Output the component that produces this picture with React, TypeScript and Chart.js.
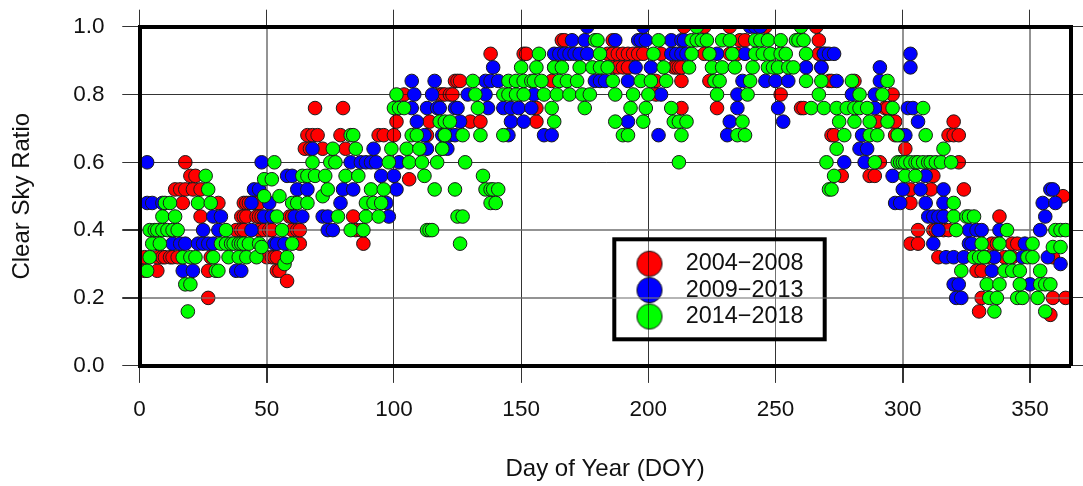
import { useEffect, useRef } from "react";
import { Chart, registerables } from "chart.js";

Chart.register(...registerables);

// Each row: ratio, then the days of year showing that ratio.
const period1Rows: number[][] = [
  [0.15, 358],
  [0.16, 330],
  [0.2, 27, 331, 359, 364],
  [0.25, 58],
  [0.28, 2, 7, 27, 54, 55, 329, 331],
  [0.32, 2, 7, 9, 10, 12, 13, 15, 28, 50, 52, 53, 54, 314, 333, 340, 343, 359],
  [0.36, 63, 88, 303, 306, 335, 337, 343, 345],
  [0.4, 38, 40, 41, 47, 49, 51, 52, 60, 62, 63, 85, 87, 306, 312, 313, 316, 318],
  [0.44, 24, 40, 41, 42, 46, 47, 48, 59, 60, 84, 338],
  [0.48, 17, 31, 41, 42, 43, 46, 47, 303],
  [0.5, 363],
  [0.52, 14, 16, 18, 21, 24, 303, 311, 324],
  [0.55, 106],
  [0.56, 20, 22, 276, 287, 289, 312],
  [0.6, 18, 291, 322],
  [0.64, 65, 67, 72, 81, 301],
  [0.68, 66, 68, 70, 79, 94, 96, 100, 113, 272, 273, 297, 318, 320, 322],
  [0.72, 101, 114, 130, 134, 156, 290, 296, 297, 320],
  [0.76, 69, 80, 156, 213, 227, 260, 261, 293, 294],
  [0.8, 104, 118, 119, 120, 122, 123, 203, 252, 296],
  [0.84, 124, 125, 126, 162, 203, 213, 224, 271, 272, 281],
  [0.88, 186, 188, 190, 192, 210, 211, 212, 213, 268],
  [0.92, 138, 151, 152, 184, 186, 188, 190, 192, 194, 196, 198, 205, 210, 222, 232, 235, 267, 269, 270],
  [0.96, 166, 167, 186, 236, 238, 267],
  [1.0, 214, 222, 232, 246, 266],
];

const period2Rows: number[][] = [
  [0.2, 321, 323],
  [0.24, 320, 322, 350],
  [0.28, 17, 21, 38, 40, 335],
  [0.3, 362],
  [0.32, 317, 320, 324, 336, 347, 357],
  [0.36, 13, 16, 18, 23, 25, 27, 29, 53, 54, 57, 312, 326, 327, 348],
  [0.4, 25, 31, 44, 74, 76, 314, 326, 329, 331, 338, 354],
  [0.44, 29, 32, 49, 52, 61, 64, 72, 74, 98, 310, 312, 314, 316, 356],
  [0.48, 3, 5, 9, 44, 51, 79, 97, 297, 299, 309, 316, 355, 360],
  [0.52, 45, 47, 62, 66, 80, 84, 101, 300, 307, 316, 358, 359],
  [0.56, 58, 60, 95, 100, 296, 309],
  [0.6, 3, 48, 83, 87, 89, 91, 93, 102, 277, 285],
  [0.64, 68, 92, 113, 121, 119, 283, 286],
  [0.68, 112, 119, 120, 122, 124, 145, 159, 162, 204, 231, 284, 299, 301],
  [0.72, 109, 126, 146, 151, 192, 232, 253, 306],
  [0.76, 107, 113, 117, 118, 124, 125, 137, 143, 146, 149, 154, 235, 251, 289, 302, 304],
  [0.8, 108, 115, 129, 136, 155, 205, 235, 280, 289],
  [0.84, 107, 116, 136, 138, 141, 179, 181, 183, 192, 237, 246, 250, 255, 274, 291],
  [0.88, 139, 163, 195, 201, 262, 268, 291, 303],
  [0.92, 163, 165, 167, 169, 171, 173, 176, 209, 211, 213, 215, 227, 238, 269, 271, 273, 303],
  [0.96, 170, 175, 187, 196, 197, 199, 209, 213, 214],
  [1.0, 176, 198, 240, 242, 244],
];

const period3Rows: number[][] = [
  [0.16, 19, 336, 356],
  [0.2, 334, 337, 345, 347, 353],
  [0.24, 18, 20, 333, 338, 346, 354, 356, 358],
  [0.28, 3, 30, 31, 323, 340, 343, 346, 354],
  [0.3, 57],
  [0.32, 4, 17, 20, 22, 29, 35, 39, 42, 46, 58, 328, 330, 332, 342, 349, 351],
  [0.35, 48, 359, 362],
  [0.36, 5, 8, 32, 34, 36, 37, 39, 40, 41, 43, 47, 60, 126, 331, 338, 351],
  [0.4, 4, 6, 7, 9, 11, 13, 15, 34, 56, 83, 88, 113, 114, 115, 321, 341, 360, 362, 364],
  [0.44, 9, 14, 54, 78, 89, 94, 125, 127, 320, 325, 326, 328],
  [0.48, 10, 12, 23, 28, 60, 62, 66, 89, 92, 95, 138, 140, 320],
  [0.5, 49, 55, 72],
  [0.52, 27, 74, 91, 96, 116, 124, 136, 138, 139, 141, 271, 272],
  [0.55, 49, 52],
  [0.56, 26, 64, 66, 69, 73, 81, 86, 112, 135, 273, 301, 305],
  [0.6, 53, 68, 75, 77, 98, 106, 111, 117, 128, 212, 270, 289, 298, 299, 300, 301, 303, 305, 306, 308, 310, 311, 313, 315, 319],
  [0.64, 76, 85, 99, 105, 110, 119, 274, 316],
  [0.68, 83, 84, 107, 109, 120, 127, 134, 143, 190, 192, 213, 235, 238, 277, 287, 290, 298, 309],
  [0.72, 118, 120, 122, 163, 187, 198, 210, 212, 215, 237, 275, 281, 287, 294],
  [0.76, 100, 102, 104, 133, 162, 175, 193, 199, 209, 264, 269, 274, 278, 281, 283, 286, 296, 308],
  [0.8, 101, 132, 143, 145, 148, 151, 159, 164, 169, 174, 177, 187, 194, 200, 227, 239, 267, 283, 292],
  [0.84, 131, 145, 148, 151, 154, 155, 158, 165, 168, 172, 186, 197, 201, 207, 226, 228, 240, 262, 268, 280, 294],
  [0.88, 150, 156, 163, 166, 173, 178, 181, 184, 206, 216, 225, 229, 234, 241, 247, 249, 251, 255, 257],
  [0.92, 157, 181, 202, 217, 224, 233, 242, 245, 248, 252, 254, 262],
  [0.96, 179, 180, 204, 217, 219, 221, 223, 229, 232, 242, 244, 247, 252, 258, 259, 261],
  [1.0, 219, 260],
];

const seriesLabels = ["2004\u22122008", "2009\u22122013", "2014\u22122018"];
const seriesColors = ["#ff0000", "#0000ff", "#00ff00"];
const xTitle = "Day of Year (DOY)";
const yTitle = "Clear Sky Ratio";

const FONT = "'Liberation Sans', Arial, sans-serif";
const AREA = { left: 139.5, top: 26.7, right: 1070.7, bottom: 365.7 };
const LEGEND_BOX = { left: 614.3, top: 239.3, right: 824.7, bottom: 339.3 };

const toPoints = (rows: number[][]) =>
  rows
    .flatMap(([ratio, ...days]) => days.map((day) => ({ x: day, y: ratio })))
    .sort((a, b) => a.x - b.x);

const isLightX = (v: number) => v === 50 || v === 300 || v === 350;
const isLightY = (v: number) => Math.abs(v - 0.2) < 1e-6 || Math.abs(v - 0.4) < 1e-6;

const legendDot = (color: string) => {
  const c = document.createElement("canvas");
  c.width = 28;
  c.height = 28;
  const g = c.getContext("2d")!;
  g.beginPath();
  g.arc(14, 14, 12.6, 0, Math.PI * 2);
  g.fillStyle = color;
  g.fill();
  g.strokeStyle = "#1a1a1a";
  g.lineWidth = 1;
  g.stroke();
  return c;
};

const framePlugin = {
  id: "frame",
  afterLayout(chart: any) {
    const l = chart.legend;
    if (!l) return;
    l.left = 622;
    l.right = 825;
    l.top = 249;
    l.bottom = 339;
    l.adjustHitBoxes();
  },
  beforeDatasetsDraw(chart: any) {
    const { ctx } = chart;
    ctx.save();
    ctx.fillStyle = "#fff";
    ctx.strokeStyle = "#000";
    ctx.lineWidth = 4;
    const b = LEGEND_BOX;
    ctx.fillRect(b.left, b.top, b.right - b.left, b.bottom - b.top);
    ctx.strokeRect(b.left, b.top, b.right - b.left, b.bottom - b.top);
    ctx.restore();
    chart.legend.draw();
  },
  afterDatasetDraw(chart: any, args: any) {
    if (args.index !== 0) return;
    chart.scales.x.drawGrid(chart.chartArea);
    chart.scales.y.drawGrid(chart.chartArea);
  },
};

const fixedSize = (prop: "width" | "height", size: number) => (scale: any) => {
  scale[prop] = size;
  scale.paddingTop = 0;
  scale.paddingBottom = 0;
  scale.paddingLeft = 0;
  scale.paddingRight = 0;
};

export default function App() {
  const ref = useRef<HTMLCanvasElement>(null);
  useEffect(() => {
    document.body.style.margin = "0";
    const point = (label: string, rows: number[][], color: string, order: number) => ({
      label,
      data: toPoints(rows),
      order,
      backgroundColor: color,
      borderColor: "#1a1a1a",
      borderWidth: 1,
      pointRadius: 6.8,
      pointBorderWidth: 1,
      showLine: false,
    });
    const border = { display: true, width: 4, color: "#000", z: 1 };
    const tickFont = { family: FONT, size: 22.5 };
    const titleFont = { family: FONT, size: 24 };
    const chart = new Chart(ref.current!, {
      type: "scatter",
      data: {
        datasets: [
          point(seriesLabels[0], period1Rows, seriesColors[0], 3),
          point(seriesLabels[1], period2Rows, seriesColors[1], 2),
          point(seriesLabels[2], period3Rows, seriesColors[2], 1),
        ],
      },
      plugins: [framePlugin],
      options: {
        animation: false,
        responsive: false,
        events: [],
        layout: { padding: 0 },
        plugins: {
          tooltip: { enabled: false },
          title: { display: false },
          legend: {
            position: "chartArea",
            align: "start",
            labels: {
              usePointStyle: true,
              pointStyleWidth: 49,
              boxHeight: 18,
              boxWidth: 49,
              padding: 3,
              color: "#111",
              font: { family: FONT, size: 23.4, lineHeight: 1 },
              sort: (a: any, b: any) => a.datasetIndex - b.datasetIndex,
              generateLabels: (chart: any) =>
                Chart.defaults.plugins.legend.labels
                  .generateLabels(chart)
                  .map((item: any) => ({ ...item, pointStyle: legendDot(seriesColors[item.datasetIndex]) })),
            },
          },
        },
        scales: {
          x: {
            type: "linear",
            position: "bottom",
            min: 0,
            max: 366,
            afterFit: fixedSize("height", 486 - AREA.bottom),
            ticks: { stepSize: 50, includeBounds: false, padding: 13.8, color: "#111", font: tickFont, maxRotation: 0 },
            grid: {
              color: (c: any) => (isLightX(c.tick?.value) ? "rgba(120,120,120,0.55)" : "rgba(0,0,0,0.55)"),
              lineWidth: (c: any) => (isLightX(c.tick?.value) ? 2 : 1),
              tickColor: "#333",
              tickLength: 17,
            },
            border,
            title: {
              display: true,
              text: xTitle,
              color: "#111",
              font: titleFont,
              padding: { top: 0, bottom: 2 },
            },
          },
          y: {
            type: "linear",
            position: "left",
            min: 0,
            max: 1,
            afterFit: fixedSize("width", AREA.left),
            ticks: { stepSize: 0.2, padding: 18, color: "#111", font: tickFont, callback: (v: any) => Number(v).toFixed(1) },
            grid: {
              color: (c: any) => (isLightY(c.tick?.value) ? "rgba(120,120,120,0.55)" : "rgba(0,0,0,0.55)"),
              lineWidth: (c: any) => (isLightY(c.tick?.value) ? 2 : 1),
              tickColor: "#333",
              tickLength: 17,
            },
            border,
            title: {
              display: true,
              text: yTitle,
              color: "#111",
              font: titleFont,
              padding: { top: 8, bottom: 0 },
            },
          },
          xTop: {
            type: "linear",
            axis: "x",
            position: "top",
            min: 0,
            max: 366,
            afterFit: fixedSize("height", AREA.top),
            ticks: { stepSize: 50, includeBounds: false, callback: () => "", padding: 0 },
            grid: { drawOnChartArea: false, color: "#333", tickLength: 17 },
            border,
          },
          yRight: {
            type: "linear",
            axis: "y",
            position: "right",
            min: 0,
            max: 1,
            afterFit: fixedSize("width", 1083 - AREA.right),
            ticks: { stepSize: 0.2, callback: () => "", padding: 0 },
            grid: { drawOnChartArea: false, color: "#333", tickLength: 17 },
            border,
          },
        },
      },
    } as any);
    return () => chart.destroy();
  }, []);
  return <canvas ref={ref} width={1083} height={486} style={{ display: "block" }} />;
}
